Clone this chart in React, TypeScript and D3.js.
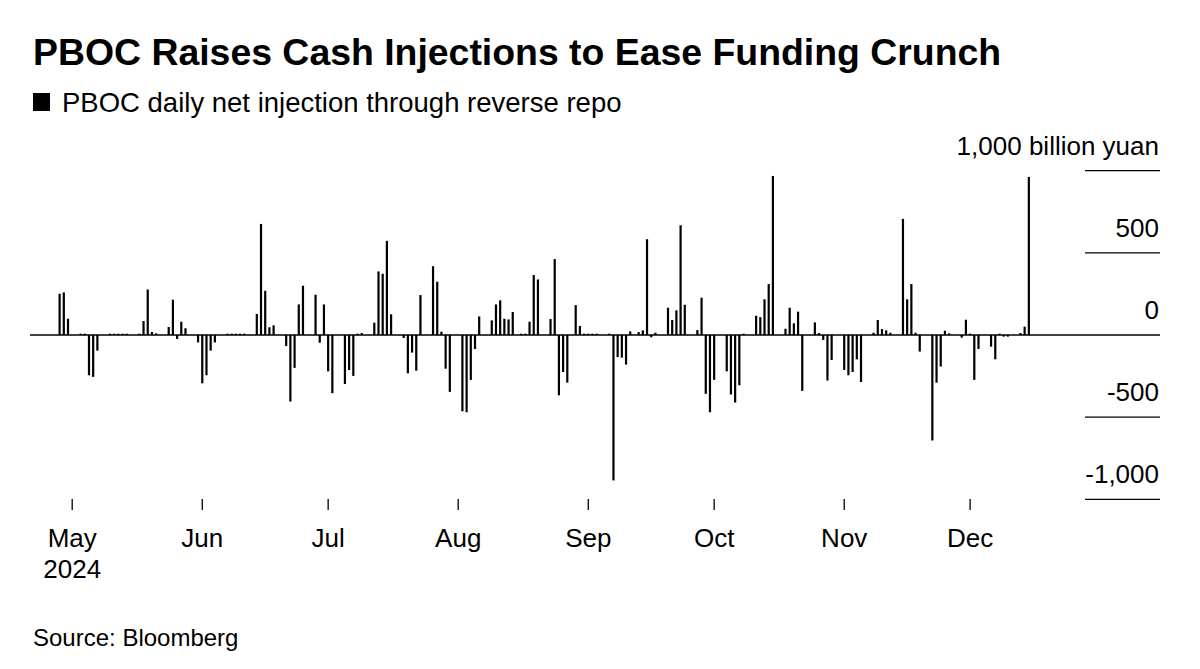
import * as d3 from 'd3';
import React from 'react';

// PBOC daily net injection through reverse repo, billion yuan
const dates = [
  '2024-04-28', '2024-04-29', '2024-04-30',
  '2024-05-03', '2024-05-04', '2024-05-05', '2024-05-06', '2024-05-07',
  '2024-05-10', '2024-05-11', '2024-05-12', '2024-05-13', '2024-05-14',
  '2024-05-17', '2024-05-18', '2024-05-19', '2024-05-20', '2024-05-21',
  '2024-05-24', '2024-05-25', '2024-05-26', '2024-05-27', '2024-05-28',
  '2024-05-31', '2024-06-01', '2024-06-02', '2024-06-03', '2024-06-04',
  '2024-06-07', '2024-06-08', '2024-06-09', '2024-06-10', '2024-06-11',
  '2024-06-14', '2024-06-15', '2024-06-16', '2024-06-17', '2024-06-18',
  '2024-06-21', '2024-06-22', '2024-06-23', '2024-06-24', '2024-06-25',
  '2024-06-28', '2024-06-29', '2024-06-30', '2024-07-01', '2024-07-02',
  '2024-07-05', '2024-07-06', '2024-07-07', '2024-07-08', '2024-07-09',
  '2024-07-12', '2024-07-13', '2024-07-14', '2024-07-15', '2024-07-16',
  '2024-07-19', '2024-07-20', '2024-07-21', '2024-07-22', '2024-07-23',
  '2024-07-26', '2024-07-27', '2024-07-28', '2024-07-29', '2024-07-30',
  '2024-08-02', '2024-08-03', '2024-08-04', '2024-08-05', '2024-08-06',
  '2024-08-09', '2024-08-10', '2024-08-11', '2024-08-12', '2024-08-13', '2024-08-14',
  '2024-08-16', '2024-08-17', '2024-08-18', '2024-08-19', '2024-08-20',
  '2024-08-23', '2024-08-24', '2024-08-25', '2024-08-26', '2024-08-27',
  '2024-08-29', '2024-08-30', '2024-08-31', '2024-09-01', '2024-09-02', '2024-09-03',
  '2024-09-06', '2024-09-07', '2024-09-08', '2024-09-09', '2024-09-10', '2024-09-11',
  '2024-09-13', '2024-09-14', '2024-09-15', '2024-09-16', '2024-09-17',
  '2024-09-20', '2024-09-21', '2024-09-22', '2024-09-23', '2024-09-24',
  '2024-09-27', '2024-09-28', '2024-09-29', '2024-09-30', '2024-10-01',
  '2024-10-04', '2024-10-05', '2024-10-06', '2024-10-07', '2024-10-08',
  '2024-10-11', '2024-10-12', '2024-10-13', '2024-10-14', '2024-10-15',
  '2024-10-18', '2024-10-19', '2024-10-20', '2024-10-21', '2024-10-22',
  '2024-10-25', '2024-10-26', '2024-10-27', '2024-10-28', '2024-10-29',
  '2024-11-01', '2024-11-02', '2024-11-03', '2024-11-04', '2024-11-05',
  '2024-11-08', '2024-11-09', '2024-11-10', '2024-11-11', '2024-11-12',
  '2024-11-15', '2024-11-16', '2024-11-17', '2024-11-18', '2024-11-19',
  '2024-11-22', '2024-11-23', '2024-11-24', '2024-11-25', '2024-11-26',
  '2024-11-29', '2024-11-30', '2024-12-01', '2024-12-02', '2024-12-03',
  '2024-12-06', '2024-12-07', '2024-12-08', '2024-12-09', '2024-12-10',
  '2024-12-13', '2024-12-14', '2024-12-15',
];

const netInjection = [
  251, 259, 99,
  8, 8, -245, -255, -95,
  8, 8, 8, 8, 8,
  8, 85, 277, 18, 10,
  49, 215, -24, 81, 41,
  -45, -294, -245, -95, -45,
  8, 8, 8, 8, 8,
  128, 676, 269, 47, 59,
  -67, -405, -200, 186, 300,
  245, -47, 186, -221, -354,
  -298, -213, -249, 8, 12,
  75, 387, 373, 573, 126,
  -18, -233, -107, -217, 243,
  419, 324, 20, -205, -346,
  -464, -470, -273, -85, 113,
  89, 186, 211, 99, 95, 140,
  8, 8, 81, 365, 338,
  97, 462, -367, -225, -290,
  182, 55, 8, 8, 8, 8,
  8, -885, -134, -138, -180, 22,
  18, 28, 583, -14, 14,
  166, 91, 150, 668, 184,
  30, 227, -358, -470, -273,
  -221, -362, -411, -306, 8,
  117, 109, 217, 310, 968,
  38, 166, 71, 142, -340,
  77, 12, -30, -277, -152,
  -213, -245, -225, -148, -286,
  14, 91, 36, 28, 14,
  707, 217, 310, 14, -101,
  -642, -290, -192, 26, 10,
  -16, 93, 8, -273, -85,
  -71, -148, 8, -10, -10,
  12, 51, 962,
];

const yTicks = [1000, 500, 0, -500, -1000];
const yUnit = 'billion yuan';

const TITLE = 'PBOC Raises Cash Injections to Ease Funding Crunch';
const LEGEND = 'PBOC daily net injection through reverse repo';
const SOURCE = 'Source: Bloomberg';

const W = 1200;
const H = 669;
const FONT = '"Liberation Sans", Arial, Helvetica, sans-serif';

const parseDate = d3.utcParse('%Y-%m-%d');
const fmtNum = d3.formatLocale({
  decimal: '.',
  thousands: ',',
  grouping: [3],
  currency: ['', ''],
  minus: '-',
}).format(',');
const fmtMonth = d3.utcFormat('%b');

const App: React.FC = () => {
  const data = dates.map((d, i) => ({ date: parseDate(d)!, value: netInjection[i] }));

  const xScale = d3.scaleUtc()
    .domain([parseDate('2024-05-01')!, parseDate('2024-12-01')!])
    .range([72.2, 970.1]);

  const yScale = d3.scaleLinear()
    .domain([-1000, 1000])
    .range([499.3, 170.7]);

  const months = xScale.ticks(d3.utcMonth.every(1)!);
  const barW = 2.2;
  const y0 = yScale(0);

  return (
    <svg
      width={W}
      height={H}
      viewBox={`0 0 ${W} ${H}`}
      style={{ position: 'absolute', left: 0, top: 0, background: '#fff' }}
      fontFamily={FONT}
    >
      <rect width={W} height={H} fill="#fff" />

      {/* Title and legend */}
      <text x={33} y={65} fontSize={37.4} fontWeight="bold" fill="#000">{TITLE}</text>
      <rect x={33} y={93} width={17} height={18} fill="#000" />
      <text x={62} y={112} fontSize={27.5} fill="#000">{LEGEND}</text>

      {/* Right-hand grid lines and labels */}
      {yTicks.map(t => (
        <g key={t}>
          {t !== 0 && (
            <line x1={1085} x2={1160} y1={yScale(t)} y2={yScale(t)} stroke="#000" strokeWidth={1.3} />
          )}
          <text x={1159} y={yScale(t) - 16} fontSize={26} textAnchor="end" fill="#000">
            {t === 1000 ? `${fmtNum(t)} ${yUnit}` : fmtNum(t)}
          </text>
        </g>
      ))}

      {/* Zero line */}
      <line x1={30} x2={1160} y1={y0} y2={y0} stroke="#000" strokeWidth={1.3} />

      {/* Bars */}
      {data.map(dp => (
        <rect
          key={+dp.date}
          x={xScale(dp.date) - barW / 2}
          y={dp.value >= 0 ? yScale(dp.value) : y0}
          width={barW}
          height={Math.abs(yScale(dp.value) - y0)}
          fill="#000"
        />
      ))}

      {/* Month axis */}
      {months.map((m, i) => (
        <g key={+m} transform={`translate(${xScale(m)},0)`}>
          <line y1={499} y2={510} stroke="#000" strokeWidth={1.3} />
          <text y={547} fontSize={26} textAnchor="middle" fill="#000">{fmtMonth(m)}</text>
          {i === 0 && (
            <text y={578} fontSize={26} textAnchor="middle" fill="#000">{m.getUTCFullYear()}</text>
          )}
        </g>
      ))}

      <text x={33} y={646} fontSize={24} fill="#000">{SOURCE}</text>
    </svg>
  );
};

export default App;
